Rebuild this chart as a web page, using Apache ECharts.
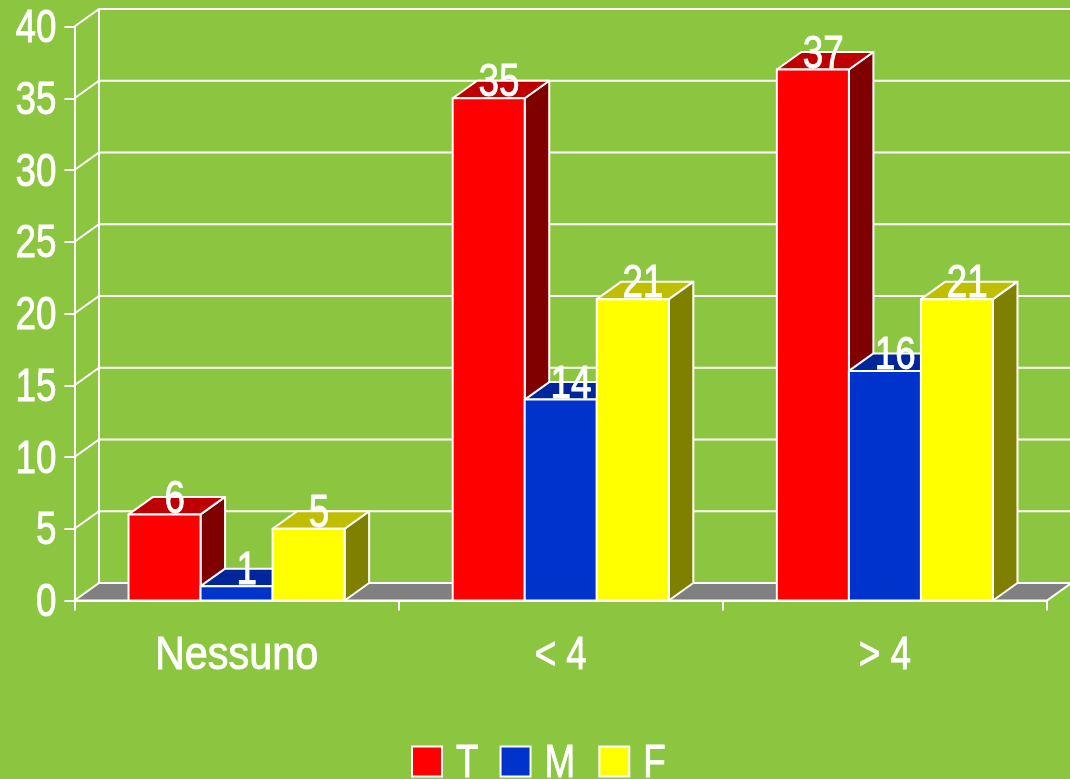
<!DOCTYPE html>
<html><head><meta charset="utf-8">
<style>html,body{margin:0;padding:0;background:#8CC640}#c{width:1070px;height:779px}</style>
<script src="https://cdn.jsdelivr.net/npm/echarts@6/dist/echarts.min.js"></script>
</head><body><div id="c"></div>
<script>
const categories = ['Nessuno', '< 4', '> 4'];
const valuesT = [6, 35, 37];
const valuesM = [1, 14, 16];
const valuesF = [5, 21, 21];
const yTicks = [0, 5, 10, 15, 20, 25, 30, 35, 40];

const FONT = '"Liberation Sans",sans-serif';
const FS = 46;
const WEIGHT = 0.9;
const DX = 24.5, DY = -17.5;
const BAR_FRAC = 2 / 9;
const chart = echarts.init(document.getElementById('c'));
const lineS = {stroke: '#fff', lineWidth: 2, fill: null};

function poly(points, fill) {
  return {type: 'polygon', shape: {points}, style: {fill, stroke: '#fff', lineWidth: 2, lineJoin: 'round'}};
}
function barSeries(name, values, idx, front, top, side) {
  return {
    name, type: 'custom', coordinateSystem: 'cartesian2d', z: 3 + idx,
    itemStyle: {color: front, borderColor: '#fff', borderWidth: 2},
    data: values.map((v, i) => [i, v]),
    encode: {x: 0, y: 1},
    renderItem(params, api) {
      const c = api.coord([api.value(0), api.value(1)]);
      const b = api.coord([api.value(0), 0]);
      const w = api.size([1, 0])[0] * BAR_FRAC;
      const x0 = c[0] + (idx - 1.5) * w, x1 = x0 + w;
      const t = c[1], y0 = b[1];
      return {type: 'group', children: [
        poly([[x1, y0], [x1 + DX, y0 + DY], [x1 + DX, t + DY], [x1, t]], side),
        poly([[x0, t], [x0 + DX, t + DY], [x1 + DX, t + DY], [x1, t]], top),
        poly([[x0, y0], [x0, t], [x1, t], [x1, y0]], front)
      ]};
    }
  };
}
function labelSeries(values, idx) {
  return {
    type: 'custom', coordinateSystem: 'cartesian2d', z: 10, silent: true,
    data: values.map((v, i) => [i, v]),
    encode: {x: 0, y: 1},
    renderItem(params, api) {
      const c = api.coord([api.value(0), api.value(1)]);
      const w = api.size([1, 0])[0] * BAR_FRAC;
      return {type: 'text', style: {
        text: String(api.value(1)), x: c[0] + (idx - 1) * w + DX / 2 - 2, y: c[1] + 5.5,
        fill: '#fff', stroke: '#fff', lineWidth: WEIGHT,
        font: FS + 'px ' + FONT, align: 'center', verticalAlign: 'bottom'
      }};
    }
  };
}
const wall = {
  type: 'custom', coordinateSystem: 'cartesian2d', z: 1, silent: true,
  data: yTicks.map(v => [0, v]),
  encode: {y: 1},
  renderItem(params, api) {
    const v = api.value(1);
    const p = api.coord([0, v]);
    const cs = params.coordSys;
    const xl = cs.x, xr = cs.x + cs.width, y = p[1];
    const kids = [];
    if (v === 0) {
      kids.push({type: 'polygon', shape: {points: [[xl, y], [xl + DX, y + DY], [xr + DX, y + DY], [xr, y]]},
        style: {fill: '#808080', stroke: '#fff', lineWidth: 2}});
      const top = api.coord([0, yTicks[yTicks.length - 1]])[1];
      kids.push({type: 'line', shape: {x1: xl + DX, y1: y + DY, x2: xl + DX, y2: top + DY}, style: lineS});
      kids.push({type: 'line', shape: {x1: xr + DX, y1: y + DY, x2: xr + DX, y2: top + DY}, style: lineS});
    } else {
      kids.push({type: 'polyline', shape: {points: [[xl, y], [xl + DX, y + DY], [xr + DX, y + DY]]}, style: lineS});
    }
    return {type: 'group', children: kids};
  }
};
const textBase = {color: '#fff', fontSize: FS, fontFamily: FONT, textBorderColor: '#fff', textBorderWidth: WEIGHT};
chart.setOption({
  animation: false,
  backgroundColor: '#8CC640',
  grid: {left: 74.5, right: 1070 - 1047, top: 26.5, bottom: 779 - 600.5},
  legend: {
    left: 406, top: 733, itemWidth: 30, itemHeight: 30, itemGap: 15, icon: 'rect',
    textStyle: Object.assign({padding: [0, 0, 0, 9]}, textBase),
    data: [{name: 'T', textStyle: {padding: [0, 5, 0, 9]}}, 'M', 'F']
  },
  xAxis: {
    type: 'category', data: categories,
    axisLine: {lineStyle: {color: '#fff', width: 2}},
    axisTick: {show: true, length: 10, lineStyle: {color: '#fff', width: 2}},
    axisLabel: Object.assign({margin: 33}, textBase),
    splitLine: {show: false}
  },
  yAxis: {
    type: 'value', min: 0, max: 40, interval: 5,
    axisLine: {show: true, lineStyle: {color: '#fff', width: 2}},
    axisTick: {show: true, length: 10, lineStyle: {color: '#fff', width: 2}},
    axisLabel: Object.assign({margin: 18}, textBase),
    splitLine: {show: false}
  },
  series: [
    wall,
    barSeries('T', valuesT, 0, '#FF0000', '#BF0000', '#800000'),
    barSeries('M', valuesM, 1, '#0033CC', '#002699', '#001966'),
    barSeries('F', valuesF, 2, '#FFFF00', '#BFBF00', '#808000'),
    labelSeries(valuesT, 0), labelSeries(valuesM, 1), labelSeries(valuesF, 2)
  ]
});

// The reference uses a narrow face that is not installed: condense the real text elements horizontally.
const zr = chart.getZr();
zr.storage.getDisplayList(true).forEach(el => {
  if (el.type !== 'tspan') return;
  const s = String(el.style.text);
  el.scaleX = s === 'Nessuno' ? 0.9 : 0.8;
  el.originX = el.style.x;
  if (el.parent && el.parent.x < 74) el.y = (el.y || 0) + 3;
  el.markRedraw();
});
zr.refreshImmediately();
</script></body></html>
